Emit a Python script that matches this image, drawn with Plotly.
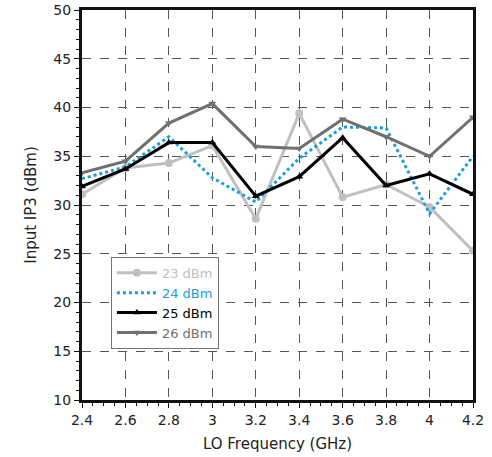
import plotly.graph_objects as go

freq = [2.4, 2.6, 2.8, 3.0, 3.2, 3.4, 3.6, 3.8, 4.0, 4.2]
ip3_23 = [31.1, 33.8, 34.3, 36.1, 28.6, 39.4, 30.8, 32.1, 29.8, 25.3]
ip3_24 = [32.7, 33.9, 37.0, 32.8, 30.3, 34.8, 38.0, 37.9, 29.1, 35.0]
ip3_25 = [31.9, 33.7, 36.4, 36.4, 30.9, 32.9, 36.9, 32.0, 33.2, 31.1]
ip3_26 = [33.3, 34.5, 38.4, 40.4, 36.0, 35.8, 38.8, 37.0, 35.0, 39.0]

names = ["23 dBm", "24 dBm", "25 dBm", "26 dBm"]
colors = ["#c0c0c0", "#1a9fd9", "#000000", "#707070"]

fig = go.Figure()
fig.add_trace(go.Scatter(x=freq, y=ip3_23, mode="lines+markers",
    name=f"<span style='color:{colors[0]}'>{names[0]}</span>",
    line=dict(color=colors[0], width=3), marker=dict(symbol="circle", size=8, color=colors[0])))
fig.add_trace(go.Scatter(x=freq, y=ip3_24, mode="lines",
    name=f"<span style='color:{colors[1]}'>{names[1]}</span>",
    line=dict(color=colors[1], width=3, dash="dot")))
fig.add_trace(go.Scatter(x=freq, y=ip3_25, mode="lines+markers",
    name=f"<span style='color:{colors[2]}'>{names[2]}</span>",
    line=dict(color=colors[2], width=3), marker=dict(symbol="triangle-up", size=7, color=colors[2])))
fig.add_trace(go.Scatter(x=freq, y=ip3_26, mode="lines+markers",
    name=f"<span style='color:{colors[3]}'>{names[3]}</span>",
    line=dict(color=colors[3], width=3), marker=dict(symbol="triangle-down", size=7, color=colors[3])))

font_family = "DejaVu Sans"
fig.update_layout(
    width=492, height=457,
    margin=dict(l=82, r=19, t=10, b=57),
    paper_bgcolor="white", plot_bgcolor="white",
    font=dict(family=font_family, size=14, color="#222"),
    showlegend=True,
    legend=dict(x=0.074, y=0.367, xanchor="left", yanchor="top",
                bgcolor="white", bordercolor="#777", borderwidth=1,
                font=dict(size=13), tracegroupgap=0, itemwidth=40),
    xaxis=dict(range=[2.4, 4.2], tickvals=freq, automargin=False,
               ticktext=["2.4", "2.6", "2.8", "3", "3.2", "3.4", "3.6", "3.8", "4", "4.2"],
               showline=True, linewidth=3, linecolor="#111", mirror=True,
               ticks="outside", ticklen=5, tickcolor="#111", tickwidth=1,
               showgrid=True, gridcolor="#555", griddash="dash", gridwidth=1,
               minor=dict(dtick=0.05, ticks="outside", ticklen=3, tickcolor="#111", showgrid=False),
               zeroline=False,
               title=dict(text="LO Frequency (GHz)", font=dict(size=15), standoff=12)),
    yaxis=dict(range=[10, 50], dtick=5, automargin=False,
               showline=True, linewidth=3, linecolor="#111", mirror=True,
               ticks="outside", ticklen=5, tickcolor="#111", tickwidth=1,
               showgrid=True, gridcolor="#555", griddash="dash", gridwidth=1,
               minor=dict(dtick=1, ticks="outside", ticklen=3, tickcolor="#111", showgrid=False),
               zeroline=False,
               title=dict(text="Input IP3 (dBm)", font=dict(size=15), standoff=14)),
)

fig.write_html("out.html")
